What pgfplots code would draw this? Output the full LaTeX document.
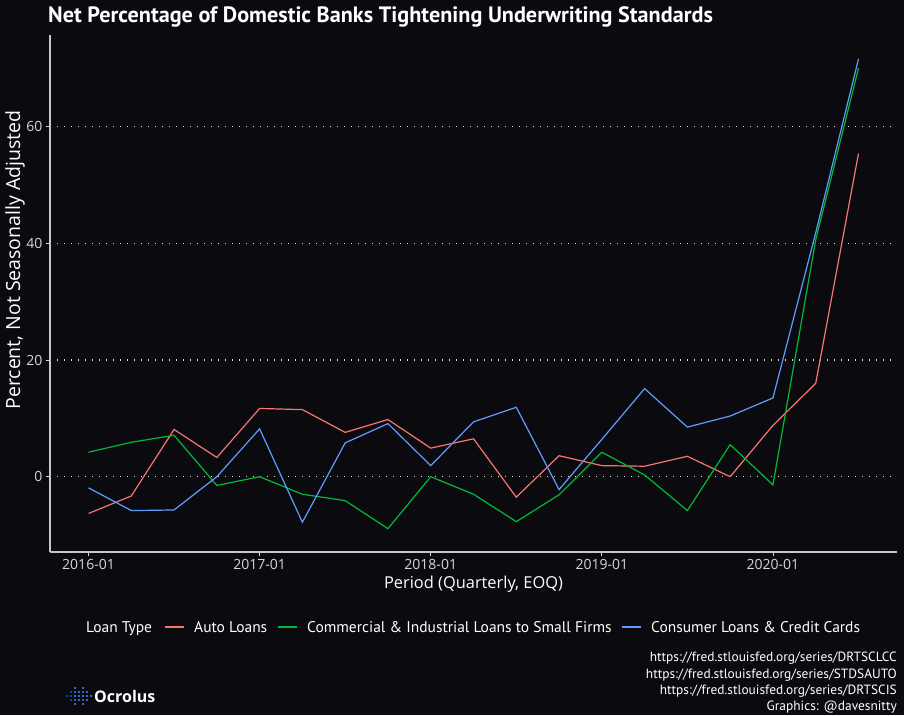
\documentclass[border=0pt]{standalone}
\usepackage{pgfplots}
\pgfplotsset{compat=1.18}
\usepackage{fontspec}
\setmainfont{Open Sans}
\newfontfamily\ptsans{PT Sans}
\definecolor{bg}{RGB}{11,10,15}
\definecolor{axisc}{RGB}{200,200,200}
\definecolor{tickc}{RGB}{215,215,215}
\definecolor{gridc}{RGB}{225,225,225}
\definecolor{autoc}{HTML}{F8766D}
\definecolor{cic}{HTML}{00BA38}
\definecolor{conc}{HTML}{619CFF}
\definecolor{logo1}{RGB}{30,80,200}
\definecolor{logo2}{RGB}{60,140,255}
\pgfplotstableread{
q auto ci cons
0 -6.3 4.2 -1.9
1 -3.3 5.9 -5.8
2 8.1 7.1 -5.7
3 3.3 -1.5 0.0
4 11.7 0.0 8.2
5 11.5 -3.0 -7.8
6 7.6 -4.1 5.8
7 9.8 -8.9 9.1
8 4.9 0.0 1.9
9 6.5 -3.0 9.4
10 -3.5 -7.7 11.9
11 3.6 -3.1 -2.2
12 1.9 4.2 6.4
13 1.8 0.3 15.1
14 3.5 -5.8 8.5
15 0.0 5.5 10.4
16 8.8 -1.4 13.5
17 16.0 40.6 41.8
18 55.4 70.0 71.6
}\loandata
\begin{document}
\begin{tikzpicture}[x=1pt,y=1pt]
\fill[bg] (0,0) rectangle (904,715);
\begin{axis}[at={(50pt,163pt)}, anchor=south west, scale only axis,
  width=847pt, height=517pt,
  xmin=-0.9, xmax=18.9, ymin=-12.9, ymax=75.7,
  axis x line=bottom, axis y line=left,
  axis line style={draw=axisc, line width=1.2pt, -},
  xtick={0,4,8,12,16},
  xticklabels={2016-01,2017-01,2018-01,2019-01,2020-01},
  ytick={0,20,40,60},
  tick align=outside, major tick length=4pt,
  tick style={draw=tickc, line width=0.8pt},
  ymajorgrids,
  grid style={draw=gridc, line width=1.3pt, dash pattern=on 1.3pt off 5.7pt},
  ticklabel style={font=\fontsize{14}{16}\selectfont, text=tickc},
  /pgf/number format/assume math mode=true,
  every axis plot/.append style={line width=1.2pt, mark=none},
]
\addplot[autoc] table[x=q, y=auto] {\loandata};
\addplot[cic] table[x=q, y=ci] {\loandata};
\addplot[conc] table[x=q, y=cons] {\loandata};
\end{axis}
% title
\node[anchor=west, text=white, font=\ptsans\bfseries\fontsize{22.2}{26}\selectfont, inner sep=0] at (48,698) {Net Percentage of Domestic Banks Tightening Underwriting Standards};
% axis labels
\node[text=white, font=\fontsize{16.4}{19}\selectfont] at (473.5,131) {Period (Quarterly, EOQ)};
\node[text=white, rotate=90, font=\fontsize{19.5}{22}\selectfont] at (15,455) {Percent, Not Seasonally Adjusted};
% legend
\begin{scope}[font=\ptsans\fontsize{15.5}{18}\selectfont]
\node[anchor=base west, text=white, inner sep=0] at (86,82.6) {Loan Type};
\draw[autoc, line width=1.2pt] (165,88) -- (184,88);
\node[anchor=base west, text=white, inner sep=0] at (194,82.6) {Auto Loans};
\draw[cic, line width=1.2pt] (278,88) -- (297,88);
\node[anchor=base west, text=white, inner sep=0] at (307,82.6) {Commercial \& Industrial Loans to Small Firms};
\draw[conc, line width=1.2pt] (622,88) -- (641,88);
\node[anchor=base west, text=white, inner sep=0] at (651,82.6) {Consumer Loans \& Credit Cards};
\end{scope}
% captions
\begin{scope}[font=\ptsans\fontsize{13.4}{15}\selectfont]
\node[anchor=base east, text=white, inner sep=0] at (897,53.5) {https://fred.stlouisfed.org/series/DRTSCLCC};
\node[anchor=base east, text=white, inner sep=0] at (897,36.8) {https://fred.stlouisfed.org/series/STDSAUTO};
\node[anchor=base east, text=white, inner sep=0] at (897,20.3) {https://fred.stlouisfed.org/series/DRTSCIS};
\node[anchor=base east, text=white, inner sep=0] at (897,4.3) {Graphics: @davesnitty};
\end{scope}
% logo
\foreach \cx/\n/\c in {67/1/logo1,71/3/logo1,75/5/logo2,79/3/logo2,83/5/logo2,87/3/logo2,91/1/logo2}{
  \foreach \k in {1,...,\n}{
    \fill[\c] (\cx, {19 + 4*(\k - (\n+1)/2)}) circle (1.2);
  }
}
\node[anchor=west, text=white, font=\fontsize{16}{19}\selectfont\bfseries, inner sep=0] at (94,19) {Ocrolus};
\end{tikzpicture}
\end{document}
